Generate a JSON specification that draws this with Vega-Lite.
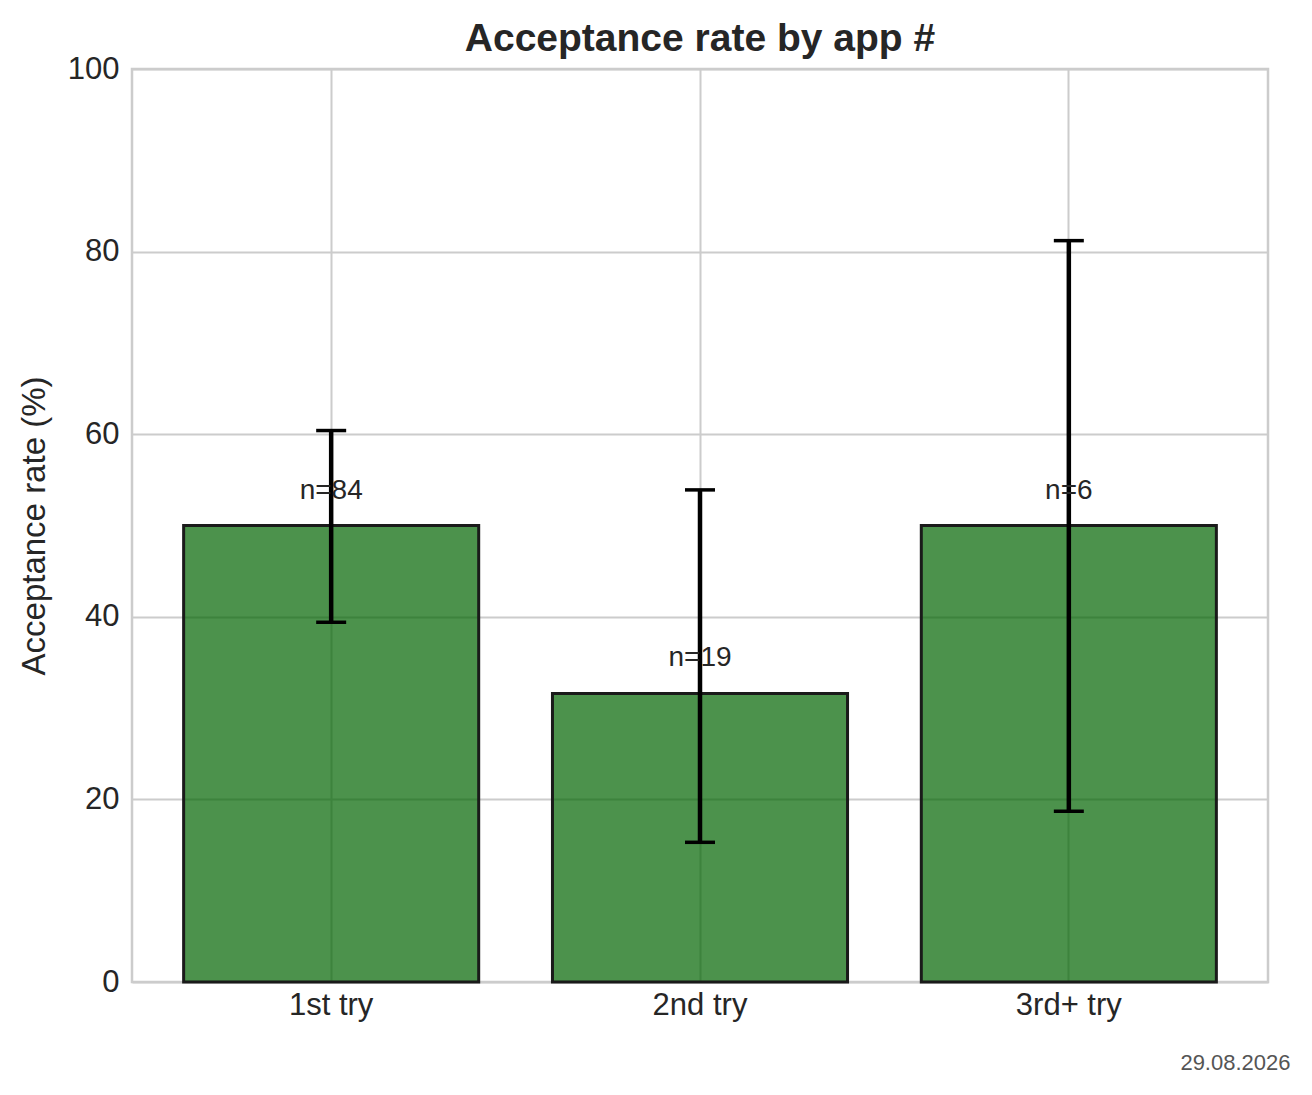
{
  "$schema": "https://vega.github.io/schema/vega-lite/v6.json",
  "width": 1136,
  "height": 913,
  "autosize": {"type": "none"},
  "padding": {"left": 132, "top": 69, "right": 44, "bottom": 113},
  "background": "white",
  "config": {
    "view": {"stroke": "#cccccc", "strokeWidth": 2.5},
    "font": "Liberation Sans"
  },
  "title": {
    "text": "Acceptance rate by app #",
    "fontSize": 39,
    "fontWeight": "bold",
    "font": "Liberation Sans",
    "color": "#262626",
    "offset": -6,
    "anchor": "middle"
  },
  "data": {
    "values": [
      {"cat": "1st try", "rate": 50, "lo": 39.4, "hi": 60.4, "label": "n=84"},
      {"cat": "2nd try", "rate": 31.6, "lo": 15.3, "hi": 53.9, "label": "n=19"},
      {"cat": "3rd+ try", "rate": 50, "lo": 18.7, "hi": 81.2, "label": "n=6"}
    ]
  },
  "encoding": {
    "x": {
      "field": "cat",
      "type": "nominal",
      "sort": null,
      "scale": {"paddingInner": 0.2, "paddingOuter": 0.14},
      "axis": {
        "title": "29.08.2026",
        "titleFontSize": 22,
        "titleColor": "#555555",
        "titleFontWeight": "normal",
        "titleX": 1158,
        "titleY": 80,
        "titleAlign": "right",
        "titleBaseline": "middle",
        "labelFontSize": 31,
        "labelColor": "#262626",
        "labelPadding": 8,
        "labelAngle": 0,
        "tickSize": 0,
        "domain": false,
        "grid": true,
        "gridColor": "#cccccc",
        "gridWidth": 2,
        "bandPosition": 0.5
      }
    }
  },
  "layer": [
    {
      "mark": {"type": "bar", "fill": "#006400", "fillOpacity": 0.7, "stroke": "#1a1a1a", "strokeWidth": 3},
      "encoding": {
        "y": {
          "field": "rate",
          "type": "quantitative",
          "scale": {"domain": [0, 100], "nice": false},
          "axis": {
            "title": "Acceptance rate (%)",
            "titleFontSize": 33,
            "titleFontWeight": "normal",
            "titleColor": "#262626",
            "titlePadding": 16,
            "labelFontSize": 31,
            "labelColor": "#262626",
            "labelPadding": 13,
            "tickSize": 0,
            "domain": false,
            "values": [0, 20, 40, 60, 80, 100],
            "gridColor": "#cccccc",
            "gridWidth": 2
          }
        }
      }
    },
    {
      "mark": {"type": "rule", "color": "black", "strokeWidth": 4.5},
      "encoding": {
        "y": {"field": "lo", "type": "quantitative"},
        "y2": {"field": "hi"}
      }
    },
    {
      "mark": {"type": "tick", "color": "black", "thickness": 3.5, "size": 30, "opacity": 1},
      "encoding": {"y": {"field": "lo", "type": "quantitative"}}
    },
    {
      "mark": {"type": "tick", "color": "black", "thickness": 3.5, "size": 30, "opacity": 1},
      "encoding": {"y": {"field": "hi", "type": "quantitative"}}
    },
    {
      "mark": {"type": "text", "fontSize": 28, "color": "#262626", "baseline": "middle", "dy": -35},
      "encoding": {
        "y": {"field": "rate", "type": "quantitative"},
        "text": {"field": "label"}
      }
    }
  ]
}
